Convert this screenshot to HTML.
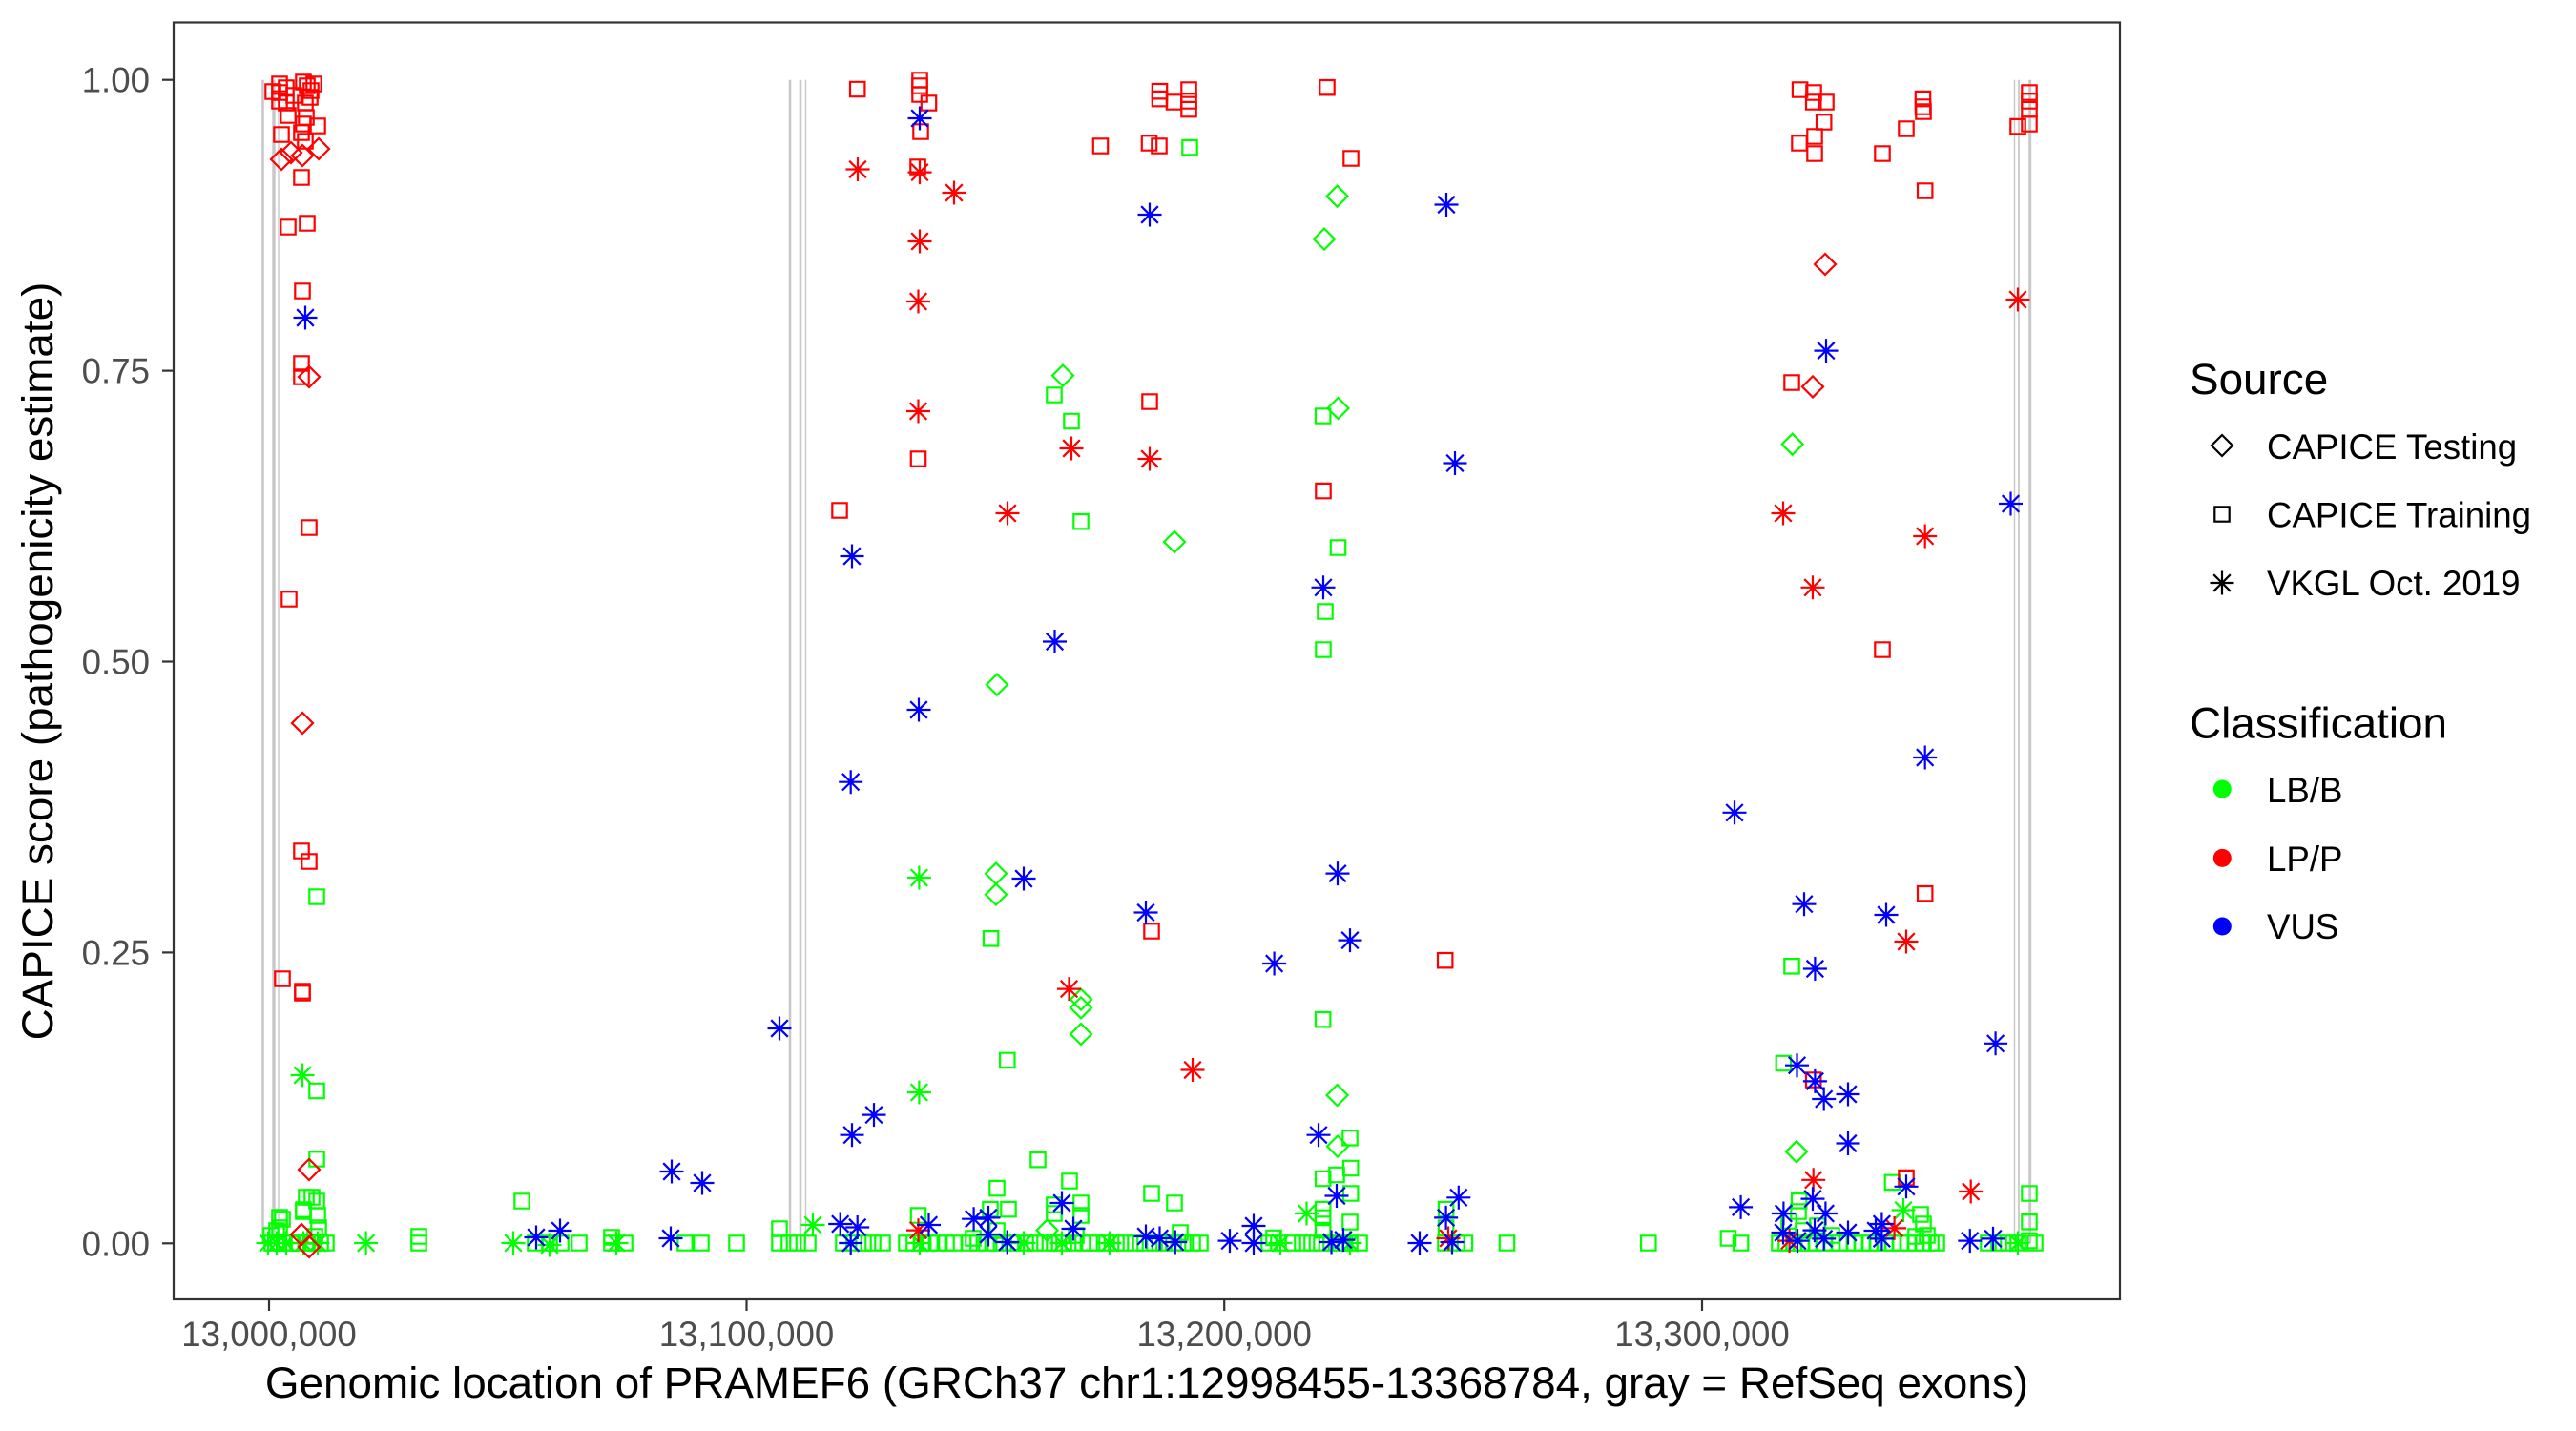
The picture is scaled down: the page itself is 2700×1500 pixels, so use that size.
<!DOCTYPE html>
<html><head><meta charset="utf-8"><style>
html,body{margin:0;padding:0;background:#fff;}
svg{display:block;}
text{font-family:"Liberation Sans",Arial,sans-serif;}
</style></head><body>
<svg width="2700" height="1500" viewBox="0 0 2700 1500" xmlns="http://www.w3.org/2000/svg">
<defs>
<path id="S" d="M-7.7,-7.7h15.4v15.4h-15.4z"/>
<path id="D" d="M0,-11L11,0L0,11L-11,0z"/>
<path id="A" d="M0,-12.5V12.5M-12.5,0H12.5M-8.8,-8.8L8.8,8.8M-8.8,8.8L8.8,-8.8"/>
</defs>
<rect width="2700" height="1500" fill="#fff"/>
<!-- exon lines -->
<g stroke="#c8c8c8" fill="none">
<line x1="275.5" y1="83.7" x2="275.5" y2="1303.3" stroke-width="2.6"/>
<line x1="287" y1="83.7" x2="287" y2="1303.3" stroke-width="3.4"/>
<line x1="292" y1="83.7" x2="292" y2="1303.3" stroke-width="1.4"/>
<line x1="828" y1="83.7" x2="828" y2="1303.3" stroke-width="2.6"/>
<line x1="839" y1="83.7" x2="839" y2="1303.3" stroke-width="2.6"/>
<line x1="844.5" y1="83.7" x2="844.5" y2="1303.3" stroke-width="1.4"/>
<line x1="2111.5" y1="83.7" x2="2111.5" y2="1303.3" stroke-width="1.4"/>
<line x1="2116" y1="83.7" x2="2116" y2="1303.3" stroke-width="1.8"/>
<line x1="2127.7" y1="83.7" x2="2127.7" y2="1303.3" stroke-width="3"/>
</g>
<!-- GREEN -->
<g stroke="#00ff00" stroke-width="2.2" fill="none">
<use href="#S" x="332" y="940"/><use href="#S" x="332" y="1143.5"/><use href="#S" x="332" y="1215"/>
<use href="#S" x="327" y="1255"/><use href="#S" x="332" y="1259"/><use href="#S" x="293" y="1276"/>
<use href="#S" x="318" y="1270"/><use href="#S" x="333" y="1274"/><use href="#S" x="293" y="1287"/>
<use href="#S" x="334" y="1287"/><use href="#S" x="330" y="1296"/><use href="#S" x="296" y="1278"/>
<use href="#S" x="321" y="1255"/><use href="#S" x="318" y="1268"/><use href="#S" x="284" y="1295"/><use href="#S" x="290" y="1290"/>
<use href="#S" x="285" y="1303"/><use href="#S" x="292" y="1303"/><use href="#S" x="298" y="1303"/><use href="#S" x="305" y="1303"/>
<use href="#S" x="312" y="1303"/><use href="#S" x="322" y="1303"/><use href="#S" x="328" y="1303"/><use href="#S" x="336" y="1303"/><use href="#S" x="342" y="1303"/>
<use href="#S" x="439" y="1296"/><use href="#S" x="439" y="1303"/><use href="#S" x="547" y="1259"/>
<use href="#S" x="561" y="1303"/><use href="#S" x="576" y="1303"/><use href="#S" x="588" y="1303"/><use href="#S" x="607" y="1303"/>
<use href="#S" x="641" y="1297"/><use href="#S" x="641" y="1303"/><use href="#S" x="655" y="1303"/>
<use href="#S" x="718" y="1303"/><use href="#S" x="735" y="1303"/><use href="#S" x="772" y="1303"/>
<use href="#S" x="817" y="1288"/><use href="#S" x="817" y="1303"/><use href="#S" x="827" y="1303"/><use href="#S" x="836" y="1303"/><use href="#S" x="847" y="1303"/>
<use href="#S" x="1247" y="154.6"/><use href="#S" x="1105" y="414"/><use href="#S" x="1123" y="441.5"/>
<use href="#S" x="1386.7" y="436"/><use href="#S" x="1133" y="546.7"/><use href="#S" x="1402.5" y="574"/>
<use href="#S" x="1389" y="641"/><use href="#S" x="1387" y="681"/>
<use href="#S" x="1038.6" y="983.8"/><use href="#S" x="1386.7" y="1068.7"/><use href="#S" x="1055.8" y="1111.4"/>
<use href="#S" x="1415" y="1192.8"/><use href="#S" x="1386.7" y="1235.5"/><use href="#S" x="1401" y="1231.5"/>
<use href="#S" x="1415.7" y="1224.5"/><use href="#S" x="1415.7" y="1251"/><use href="#S" x="1415" y="1281"/>
<use href="#S" x="1386.7" y="1267.6"/><use href="#S" x="1386.7" y="1276.4"/><use href="#S" x="1386.7" y="1289.6"/>
<use href="#S" x="1088" y="1215.7"/><use href="#S" x="1121" y="1238"/><use href="#S" x="1045" y="1245.6"/>
<use href="#S" x="1057" y="1267.6"/><use href="#S" x="1038" y="1267.6"/><use href="#S" x="1133" y="1261"/>
<use href="#S" x="1133" y="1274"/><use href="#S" x="1105" y="1263"/><use href="#S" x="1105" y="1272"/>
<use href="#S" x="1207" y="1251"/><use href="#S" x="1231" y="1261"/><use href="#S" x="962.5" y="1274"/>
<use href="#S" x="1335" y="1297.5"/><use href="#S" x="1515.6" y="1267.6"/><use href="#S" x="1515.6" y="1287"/><use href="#S" x="1535.4" y="1303"/>
<use href="#S" x="1020" y="1298"/><use href="#S" x="1045" y="1290"/><use href="#S" x="1128" y="1295"/><use href="#S" x="1237" y="1292"/>
<use href="#S" x="884" y="1303"/><use href="#S" x="895" y="1303"/><use href="#S" x="905" y="1303"/><use href="#S" x="915" y="1303"/><use href="#S" x="925" y="1303"/>
<use href="#S" x="950" y="1303"/><use href="#S" x="958" y="1303"/><use href="#S" x="966" y="1303"/><use href="#S" x="975" y="1303"/><use href="#S" x="983" y="1303"/>
<use href="#S" x="992" y="1303"/><use href="#S" x="1000" y="1303"/><use href="#S" x="1016" y="1303"/><use href="#S" x="1025" y="1303"/><use href="#S" x="1034" y="1303"/>
<use href="#S" x="1043" y="1303"/><use href="#S" x="1052" y="1303"/><use href="#S" x="1062" y="1303"/><use href="#S" x="1075" y="1303"/><use href="#S" x="1085" y="1303"/>
<use href="#S" x="1095" y="1303"/><use href="#S" x="1105" y="1303"/><use href="#S" x="1115" y="1303"/><use href="#S" x="1125" y="1303"/><use href="#S" x="1135" y="1303"/>
<use href="#S" x="1142" y="1303"/><use href="#S" x="1150" y="1303"/><use href="#S" x="1160" y="1303"/><use href="#S" x="1170" y="1303"/><use href="#S" x="1180" y="1303"/>
<use href="#S" x="1190" y="1303"/><use href="#S" x="1200" y="1303"/><use href="#S" x="1210" y="1303"/><use href="#S" x="1220" y="1303"/><use href="#S" x="1230" y="1303"/>
<use href="#S" x="1240" y="1303"/><use href="#S" x="1250" y="1303"/><use href="#S" x="1258" y="1303"/><use href="#S" x="1330" y="1303"/><use href="#S" x="1340" y="1303"/>
<use href="#S" x="1355" y="1303"/><use href="#S" x="1365" y="1303"/><use href="#S" x="1375" y="1303"/><use href="#S" x="1385" y="1303"/><use href="#S" x="1395" y="1303"/>
<use href="#S" x="1405" y="1303"/><use href="#S" x="1415" y="1303"/><use href="#S" x="1425" y="1303"/><use href="#S" x="1515" y="1303"/><use href="#S" x="1527" y="1303"/>
<use href="#S" x="1878" y="1012.8"/><use href="#S" x="1869.4" y="1114.5"/><use href="#S" x="1983.4" y="1239.4"/><use href="#S" x="2127" y="1251"/>
<use href="#S" x="1885.7" y="1258.8"/><use href="#S" x="2013" y="1273"/><use href="#S" x="2016" y="1283"/><use href="#S" x="2127" y="1280.8"/>
<use href="#S" x="1579.5" y="1303"/><use href="#S" x="1727.8" y="1303"/><use href="#S" x="1811.4" y="1298"/><use href="#S" x="1824.6" y="1303"/><use href="#S" x="2127" y="1300.6"/>
<use href="#S" x="1865" y="1303"/><use href="#S" x="1872" y="1303"/><use href="#S" x="1880" y="1303"/><use href="#S" x="1888" y="1303"/><use href="#S" x="1896" y="1303"/>
<use href="#S" x="1904" y="1303"/><use href="#S" x="1912" y="1303"/><use href="#S" x="1920" y="1303"/><use href="#S" x="1928" y="1303"/><use href="#S" x="1936" y="1303"/>
<use href="#S" x="1944" y="1303"/><use href="#S" x="1952" y="1303"/><use href="#S" x="1960" y="1303"/><use href="#S" x="1968" y="1303"/><use href="#S" x="1976" y="1303"/>
<use href="#S" x="1984" y="1303"/><use href="#S" x="1992" y="1303"/><use href="#S" x="2000" y="1303"/><use href="#S" x="2008" y="1303"/><use href="#S" x="2016" y="1303"/>
<use href="#S" x="2024" y="1303"/><use href="#S" x="2030" y="1303"/><use href="#S" x="2084" y="1303"/><use href="#S" x="2095" y="1303"/><use href="#S" x="2105" y="1303"/>
<use href="#S" x="2115" y="1303"/><use href="#S" x="2133" y="1303"/>
<use href="#S" x="1875" y="1280"/><use href="#S" x="1885" y="1270"/><use href="#S" x="1890" y="1290"/><use href="#S" x="1905" y="1285"/><use href="#S" x="1920" y="1295"/>
<use href="#S" x="2008" y="1296"/><use href="#S" x="2020" y="1295"/>
<use href="#D" x="1401.6" y="205.7"/><use href="#D" x="1388" y="250.6"/><use href="#D" x="1114" y="393.6"/><use href="#D" x="1402.5" y="428"/>
<use href="#D" x="1231" y="568"/><use href="#D" x="1045" y="717.6"/><use href="#D" x="1044" y="915.6"/><use href="#D" x="1044" y="937.6"/>
<use href="#D" x="1133" y="1047.6"/><use href="#D" x="1133" y="1056.4"/><use href="#D" x="1133" y="1084"/><use href="#D" x="1401.6" y="1148"/>
<use href="#D" x="1402" y="1201.6"/><use href="#D" x="1878.7" y="465.7"/><use href="#D" x="1883" y="1207.3"/><use href="#D" x="1097.6" y="1289.6"/>
<use href="#A" x="317" y="1127"/><use href="#A" x="281" y="1303"/><use href="#A" x="290" y="1303"/><use href="#A" x="300" y="1303"/>
<use href="#A" x="318" y="1303"/><use href="#A" x="333" y="1303"/><use href="#A" x="383.6" y="1303"/><use href="#A" x="538" y="1303"/>
<use href="#A" x="576" y="1305"/><use href="#A" x="646" y="1303"/><use href="#A" x="852" y="1284"/><use href="#A" x="963.4" y="920"/>
<use href="#A" x="963.4" y="1145"/><use href="#A" x="1369.5" y="1272"/><use href="#A" x="1342" y="1303"/><use href="#A" x="1995" y="1268.5"/>
<use href="#A" x="2115" y="1303"/><use href="#A" x="964" y="1303"/><use href="#A" x="1073" y="1303"/><use href="#A" x="1113" y="1303"/>
<use href="#A" x="1163" y="1303"/><use href="#A" x="1415" y="1303"/>
</g>
<!-- RED -->
<g stroke="#ff0000" stroke-width="2.2" fill="none">
<use href="#S" x="293" y="88"/><use href="#S" x="293" y="97"/><use href="#S" x="293" y="106"/><use href="#S" x="300" y="92"/>
<use href="#S" x="318" y="86"/><use href="#S" x="322" y="90"/><use href="#S" x="326" y="95"/><use href="#S" x="325" y="102"/>
<use href="#S" x="320" y="108"/><use href="#S" x="308" y="100"/><use href="#S" x="300" y="108"/><use href="#S" x="329" y="88"/>
<use href="#S" x="286" y="96"/><use href="#S" x="302" y="121"/><use href="#S" x="321" y="123"/><use href="#S" x="333" y="132"/>
<use href="#S" x="295" y="141"/><use href="#S" x="316" y="139"/><use href="#S" x="320" y="148"/><use href="#S" x="318" y="130"/>
<use href="#S" x="316" y="186"/><use href="#S" x="302" y="238"/><use href="#S" x="322" y="234"/><use href="#S" x="317" y="305"/>
<use href="#S" x="316" y="381"/><use href="#S" x="316" y="395"/><use href="#S" x="324" y="553"/><use href="#S" x="303" y="628"/>
<use href="#S" x="316" y="892"/><use href="#S" x="324" y="903"/><use href="#S" x="296" y="1026"/><use href="#S" x="317" y="1039"/><use href="#S" x="317" y="1041"/>
<use href="#S" x="898.7" y="93.5"/><use href="#S" x="964" y="84"/><use href="#S" x="964" y="90"/><use href="#S" x="964" y="99"/>
<use href="#S" x="973.5" y="108"/><use href="#S" x="965" y="138"/><use href="#S" x="962" y="175"/><use href="#S" x="1215.5" y="95.7"/>
<use href="#S" x="1215.5" y="103.6"/><use href="#S" x="1230.5" y="107"/><use href="#S" x="1246" y="94"/><use href="#S" x="1246" y="106"/>
<use href="#S" x="1246" y="114.6"/><use href="#S" x="1153.5" y="153"/><use href="#S" x="1204.5" y="150"/><use href="#S" x="1215" y="153"/>
<use href="#S" x="1391" y="91.7"/><use href="#S" x="1416" y="166"/><use href="#S" x="1205" y="421"/><use href="#S" x="962.5" y="481"/>
<use href="#S" x="1387" y="514.6"/><use href="#S" x="880" y="535"/><use href="#S" x="1207" y="976"/><use href="#S" x="1514.7" y="1006.7"/>
<use href="#S" x="1886.6" y="94"/><use href="#S" x="1901" y="97"/><use href="#S" x="1900.7" y="107"/><use href="#S" x="1914" y="107"/>
<use href="#S" x="1911.7" y="128"/><use href="#S" x="1886" y="150"/><use href="#S" x="1902" y="143"/><use href="#S" x="1902" y="161"/>
<use href="#S" x="2015.5" y="103.6"/><use href="#S" x="2015.5" y="112"/><use href="#S" x="2016" y="117"/><use href="#S" x="1998" y="135"/>
<use href="#S" x="1973" y="161"/><use href="#S" x="2017.7" y="200"/><use href="#S" x="2127" y="97"/><use href="#S" x="2127" y="106"/>
<use href="#S" x="2127" y="114.6"/><use href="#S" x="2127" y="130"/><use href="#S" x="2115" y="132.6"/><use href="#S" x="1878" y="401"/>
<use href="#S" x="1973" y="681"/><use href="#S" x="2017.7" y="936.7"/><use href="#S" x="1900.7" y="1132"/><use href="#S" x="1998" y="1234.6"/>
<use href="#D" x="295" y="167"/><use href="#D" x="305" y="160"/><use href="#D" x="317" y="163"/><use href="#D" x="334" y="156"/>
<use href="#D" x="324" y="395"/><use href="#D" x="317" y="758"/><use href="#D" x="324" y="1226"/><use href="#D" x="316" y="1294"/>
<use href="#D" x="324" y="1307"/><use href="#D" x="1913" y="277"/><use href="#D" x="1900" y="405.4"/>
<use href="#A" x="899" y="177.5"/><use href="#A" x="964" y="180.6"/><use href="#A" x="1000" y="202"/><use href="#A" x="964" y="253"/>
<use href="#A" x="962.5" y="316"/><use href="#A" x="962.5" y="431"/><use href="#A" x="1123" y="470"/><use href="#A" x="1205" y="481"/>
<use href="#A" x="1056" y="538"/><use href="#A" x="1120.5" y="1036.6"/><use href="#A" x="1250" y="1121.5"/><use href="#A" x="962.5" y="1289.6"/>
<use href="#A" x="2115" y="314"/><use href="#A" x="1869" y="538"/><use href="#A" x="2017.7" y="562"/><use href="#A" x="1900" y="615.8"/>
<use href="#A" x="1998" y="987"/><use href="#A" x="1900.7" y="1236.8"/><use href="#A" x="2065.7" y="1249"/><use href="#A" x="1875.6" y="1300.6"/>
<use href="#A" x="1985.6" y="1287.4"/><use href="#A" x="1518" y="1298"/>
</g>
<!-- BLUE -->
<g stroke="#0000ff" stroke-width="2.2" fill="none">
<use href="#A" x="320" y="333"/><use href="#A" x="562" y="1297"/><use href="#A" x="587" y="1290"/><use href="#A" x="704" y="1228"/>
<use href="#A" x="736" y="1240"/><use href="#A" x="703" y="1298"/><use href="#A" x="817" y="1078"/><use href="#A" x="964" y="124"/>
<use href="#A" x="1205" y="225"/><use href="#A" x="1516" y="214.5"/><use href="#A" x="1525" y="485.5"/><use href="#A" x="893" y="583"/>
<use href="#A" x="1387" y="615.8"/><use href="#A" x="1105.5" y="672.5"/><use href="#A" x="963" y="744"/><use href="#A" x="891.7" y="819.7"/>
<use href="#A" x="1073" y="921"/><use href="#A" x="1201" y="956.5"/><use href="#A" x="1402" y="915.6"/><use href="#A" x="1415" y="985.6"/>
<use href="#A" x="1335.6" y="1010"/><use href="#A" x="893" y="1189.7"/><use href="#A" x="916" y="1168.6"/><use href="#A" x="1382" y="1189.7"/>
<use href="#A" x="1401" y="1253.5"/><use href="#A" x="1113" y="1261"/><use href="#A" x="1125" y="1288"/><use href="#A" x="1020.6" y="1277.7"/>
<use href="#A" x="1036" y="1276.4"/><use href="#A" x="1036" y="1294"/><use href="#A" x="973.5" y="1284"/><use href="#A" x="880.7" y="1283"/>
<use href="#A" x="898.7" y="1286.5"/><use href="#A" x="891.7" y="1303"/><use href="#A" x="1055.8" y="1302"/><use href="#A" x="1201" y="1296"/>
<use href="#A" x="1215.5" y="1298"/><use href="#A" x="1231.8" y="1302"/><use href="#A" x="1289" y="1300.6"/><use href="#A" x="1314" y="1285"/>
<use href="#A" x="1314" y="1303"/><use href="#A" x="1395.5" y="1302"/><use href="#A" x="1408" y="1299.6"/><use href="#A" x="1488" y="1303"/>
<use href="#A" x="1515.6" y="1276.4"/><use href="#A" x="1528.8" y="1255.3"/><use href="#A" x="1522" y="1302"/><use href="#A" x="2017.7" y="794"/>
<use href="#A" x="1818" y="851.8"/><use href="#A" x="1891" y="947.7"/><use href="#A" x="1977" y="959"/><use href="#A" x="1902.4" y="1015.5"/>
<use href="#A" x="2091.6" y="1093.8"/><use href="#A" x="1883.5" y="1116.7"/><use href="#A" x="1902.4" y="1133.4"/><use href="#A" x="1911.7" y="1152"/>
<use href="#A" x="1937" y="1147"/><use href="#A" x="1937" y="1198.5"/><use href="#A" x="1998" y="1243.8"/><use href="#A" x="1824.6" y="1265.4"/>
<use href="#A" x="1869.4" y="1272"/><use href="#A" x="1900" y="1256.6"/><use href="#A" x="1913.4" y="1272"/><use href="#A" x="1869" y="1292"/>
<use href="#A" x="1884" y="1300.6"/><use href="#A" x="1902" y="1289.6"/><use href="#A" x="1911.7" y="1298.4"/><use href="#A" x="1937" y="1292"/>
<use href="#A" x="1966" y="1290"/><use href="#A" x="1972.4" y="1298.4"/><use href="#A" x="1972.4" y="1283"/><use href="#A" x="2064.8" y="1300.6"/>
<use href="#A" x="2089" y="1298.4"/><use href="#A" x="1914" y="367.6"/><use href="#A" x="2107.5" y="528"/>
</g>
<!-- panel border -->
<rect x="182" y="23.5" width="2040" height="1338.5" fill="none" stroke="#333333" stroke-width="2.2"/>
<!-- y ticks -->
<g stroke="#333333" stroke-width="2.2">
<line x1="170" y1="83.7" x2="182" y2="83.7"/><line x1="170" y1="388.6" x2="182" y2="388.6"/>
<line x1="170" y1="693.5" x2="182" y2="693.5"/><line x1="170" y1="998.4" x2="182" y2="998.4"/>
<line x1="170" y1="1303.3" x2="182" y2="1303.3"/>
<line x1="282" y1="1362" x2="282" y2="1374"/><line x1="782.5" y1="1362" x2="782.5" y2="1374"/>
<line x1="1283.2" y1="1362" x2="1283.2" y2="1374"/><line x1="1784" y1="1362" x2="1784" y2="1374"/>
</g>
<g font-size="36.67" fill="#4d4d4d" text-anchor="end">
<text x="157" y="96.7">1.00</text><text x="157" y="401.6">0.75</text><text x="157" y="706.5">0.50</text>
<text x="157" y="1011.4">0.25</text><text x="157" y="1316.3">0.00</text>
</g>
<g font-size="36.67" fill="#4d4d4d" text-anchor="middle">
<text x="282" y="1411">13,000,000</text><text x="782.5" y="1411">13,100,000</text>
<text x="1283.2" y="1411">13,200,000</text><text x="1784" y="1411">13,300,000</text>
</g>
<text x="1202" y="1465" font-size="45.83" fill="#000" text-anchor="middle">Genomic location of PRAMEF6 (GRCh37 chr1:12998455-13368784, gray = RefSeq exons)</text>
<text transform="translate(55,693) rotate(-90)" font-size="45.83" fill="#000" text-anchor="middle">CAPICE score (pathogenicity estimate)</text>
<!-- legend -->
<text x="2295" y="413" font-size="45.83" fill="#000">Source</text>
<g stroke="#000" stroke-width="2.2" fill="none">
<use href="#D" x="2329" y="467"/><use href="#S" x="2329" y="539"/><use href="#A" x="2329" y="611"/>
</g>
<g font-size="36.67" fill="#000">
<text x="2376" y="481">CAPICE Testing</text>
<text x="2376" y="552.5">CAPICE Training</text>
<text x="2376" y="624">VKGL Oct. 2019</text>
</g>
<text x="2295" y="773.6" font-size="45.83" fill="#000">Classification</text>
<circle cx="2329.3" cy="827" r="9.5" fill="#00ff00"/>
<circle cx="2329.3" cy="899.4" r="9.5" fill="#ff0000"/>
<circle cx="2329.3" cy="971" r="9.5" fill="#0000ff"/>
<g font-size="36.67" fill="#000">
<text x="2376" y="841">LB/B</text>
<text x="2376" y="913">LP/P</text>
<text x="2376" y="984">VUS</text>
</g>
</svg>
</body></html>
